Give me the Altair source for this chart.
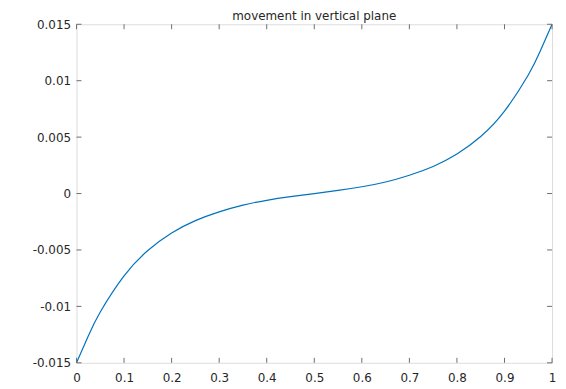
import altair as alt
import pandas as pd

# Curve
xs = [0.0, 0.025, 0.05, 0.1, 0.15, 0.2, 0.25, 0.3, 0.35, 0.4, 0.45, 0.5,
      0.55, 0.6, 0.65, 0.7, 0.75, 0.8, 0.85, 0.9, 0.95, 0.975, 1.0]
ys = [-0.015, -0.0126, -0.0105, -0.0073, -0.00505, -0.0035, -0.0024, -0.001625,
      -0.001025, -0.0006, -0.00028, 0.0,
      0.00028, 0.0006, 0.001025, 0.001625, 0.0024, 0.0035, 0.00505, 0.0073, 0.0105,
      0.0126, 0.015]

x_ticks = [0, 0.1, 0.2, 0.3, 0.4, 0.5, 0.6, 0.7, 0.8, 0.9, 1]
y_ticks = [-0.015, -0.01, -0.005, 0, 0.005, 0.01, 0.015]

title_text = "movement in vertical plane"

W, H = 479, 341
FONT = "DejaVu Sans"
AX = "#6e6e6e"
TXT = "#262626"

df = pd.DataFrame({"x": xs, "y": ys})
xt = pd.DataFrame({"v": x_ticks})
yt = pd.DataFrame({"v": y_ticks})

xscale = alt.Scale(domain=[0, 1], nice=False, zero=False)
yscale = alt.Scale(domain=[-0.015, 0.015], nice=False, zero=False)

xaxis = alt.Axis(values=x_ticks, labelExpr="datum.value + ''", tickSize=0,
                 domain=False, grid=False, labelPadding=10, labelFontSize=12,
                 labelFont=FONT, labelColor=TXT, labelFlush=False)
yaxis = alt.Axis(values=y_ticks, labelExpr="datum.value + ''", tickSize=0,
                 domain=False, grid=False, labelPadding=6, labelFontSize=12,
                 labelFont=FONT, labelColor=TXT, labelFlush=False)

line = alt.Chart(df).mark_line(color="#0072BD", strokeWidth=1.2, interpolate="natural").encode(
    x=alt.X("x:Q", scale=xscale, title=None, axis=xaxis),
    y=alt.Y("y:Q", scale=yscale, title=None, axis=yaxis),
)

tb = alt.Chart(xt).mark_rule(color=AX, strokeWidth=1).encode(
    x=alt.X("v:Q", scale=xscale, title=None, axis=xaxis), y=alt.value(H), y2=alt.value(H - 5))
tt = alt.Chart(xt).mark_rule(color=AX, strokeWidth=1).encode(
    x=alt.X("v:Q", scale=xscale, title=None, axis=xaxis), y=alt.value(0), y2=alt.value(5))
tl = alt.Chart(yt).mark_rule(color=AX, strokeWidth=1).encode(
    y=alt.Y("v:Q", scale=yscale, title=None, axis=yaxis), x=alt.value(0), x2=alt.value(5))
tr = alt.Chart(yt).mark_rule(color=AX, strokeWidth=1).encode(
    y=alt.Y("v:Q", scale=yscale, title=None, axis=yaxis), x=alt.value(W), x2=alt.value(W - 5))

chart = alt.layer(line, tb, tt, tl, tr).properties(
    width=W, height=H,
    title=alt.TitleParams(title_text, font=FONT, fontSize=12, fontWeight="normal",
                          color=TXT, offset=2, dy=7, anchor="middle"),
    autosize=alt.AutoSizeParams(type="none"),
    padding={"left": 69, "top": 15, "right": 6, "bottom": 25},
).configure_view(stroke=AX, strokeWidth=1.2).configure(background="white")

chart.save("out.html", embed_options={"renderer": "svg", "actions": False})
